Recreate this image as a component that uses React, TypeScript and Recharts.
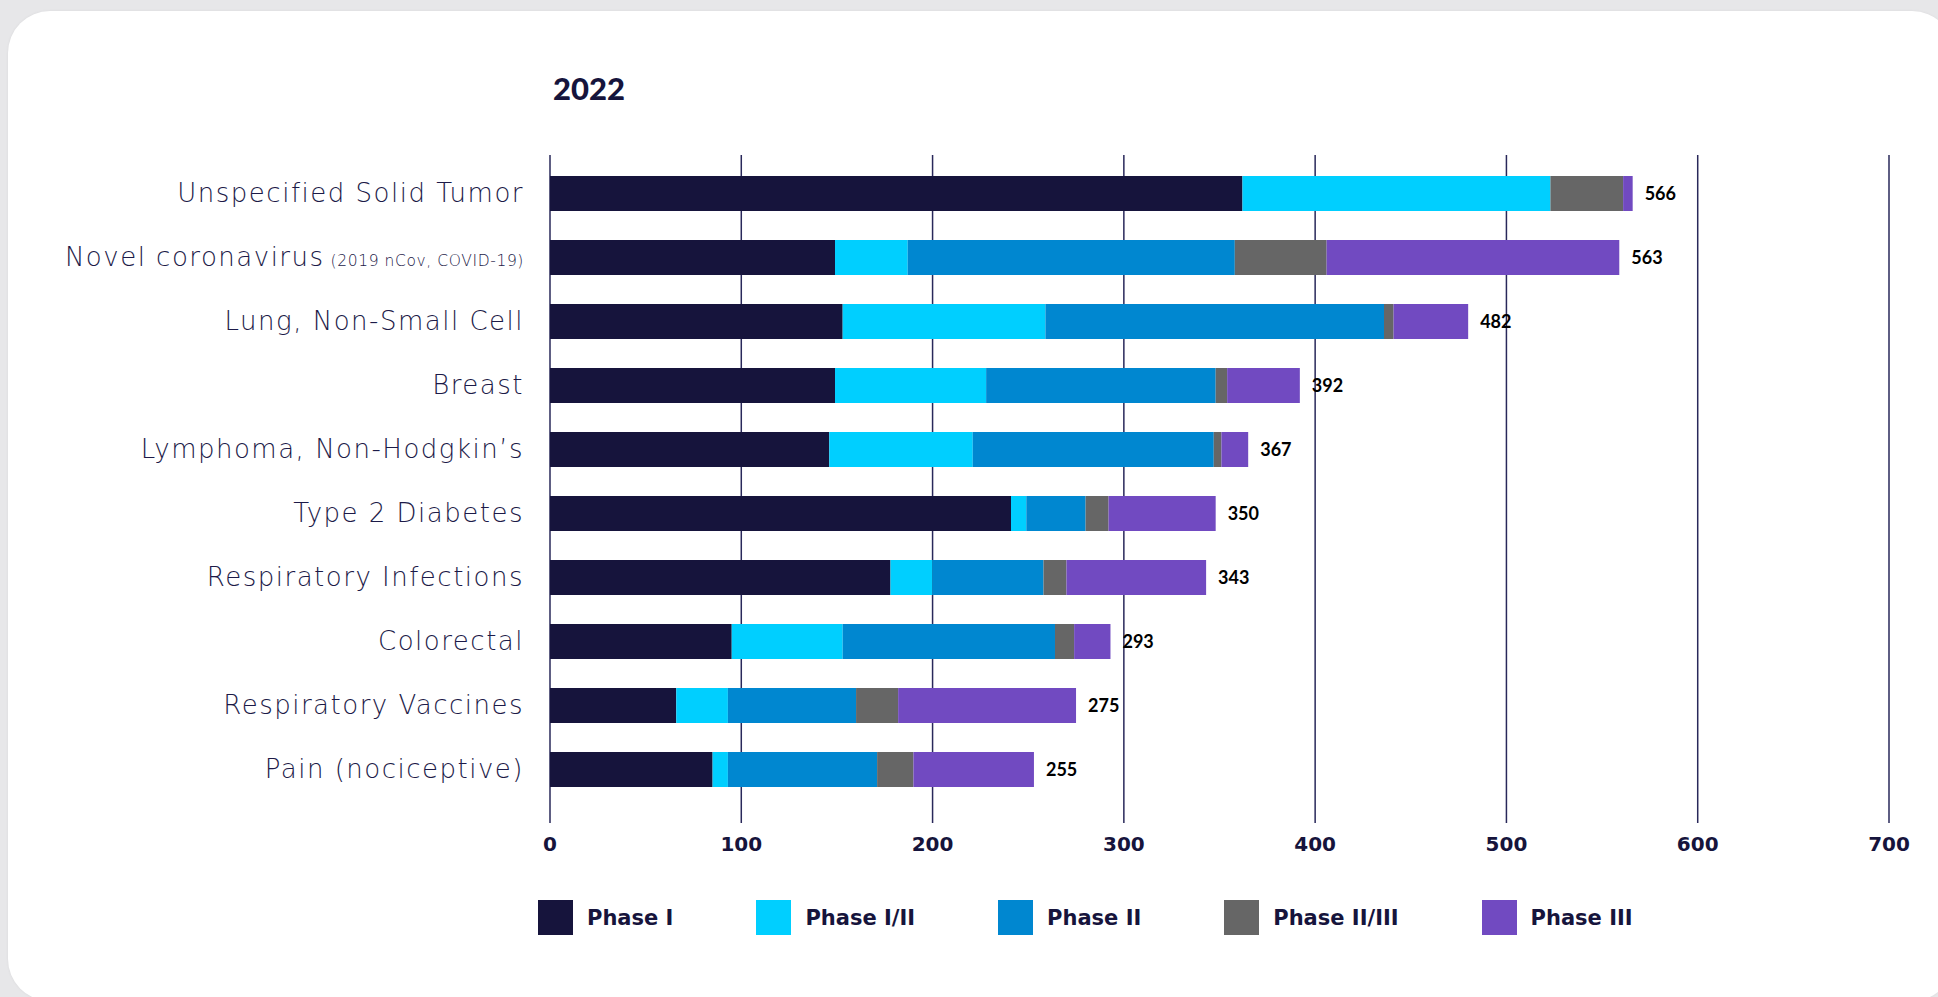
import React from 'react';
import { BarChart, Bar, XAxis, YAxis, CartesianGrid, LabelList } from 'recharts';

const title = '2022';
const categories = [
  'Unspecified Solid Tumor',
  'Novel coronavirus',
  'Lung, Non-Small Cell',
  'Breast',
  'Lymphoma, Non-Hodgkin\u2019s',
  'Type 2 Diabetes',
  'Respiratory Infections',
  'Colorectal',
  'Respiratory Vaccines',
  'Pain (nociceptive)',
];
const categoryNotes = ['', '(2019 nCov, COVID-19)', '', '', '', '', '', '', '', ''];
const phaseI = [362, 149, 153, 149, 146, 241, 178, 95, 66, 85];
const phaseI_II = [161, 38, 106, 79, 75, 8, 22, 58, 27, 8];
const phaseII = [0, 171, 177, 120, 126, 31, 58, 111, 67, 78];
const phaseII_III = [38, 48, 5, 6, 4, 12, 12, 10, 22, 19];
const phaseIII = [5, 153, 39, 38, 14, 56, 73, 19, 93, 63];
const totals = [566, 563, 482, 392, 367, 350, 343, 293, 275, 255];
const xTicks = [0, 100, 200, 300, 400, 500, 600, 700];

const seriesNames = ['Phase I', 'Phase I/II', 'Phase II', 'Phase II/III', 'Phase III'];
const seriesKeys = ['p1', 'p12', 'p2', 'p23', 'p3'];
const seriesColors = ['#16143c', '#00cfff', '#0087d0', '#666666', '#714ac1'];
const seriesValues = [phaseI, phaseI_II, phaseII, phaseII_III, phaseIII];

const data = categories.map((name, i) => {
  const row: Record<string, any> = { name, note: categoryNotes[i], total: totals[i] };
  seriesKeys.forEach((k, s) => {
    row[k] = seriesValues[s][i];
  });
  return row;
});

const NAVY = '#16143c';
const LABEL_FONT = 'Lato, "Open Sans", sans-serif';
const WIDE_FONT = '"DejaVu Sans", sans-serif';
const LIGHT_FONT = '"DejaVu Sans ExtraLight", "DejaVu Sans", sans-serif';

const YTick = (props: any) => {
  const { x, y, payload, index } = props;
  const note = categoryNotes[index] || '';
  return (
    <text
      x={x}
      y={y}
      dy="0.36em"
      textAnchor="end"
      fill="#1c1a48"
      fontFamily={LIGHT_FONT}
      fontWeight={200}
      fontSize={26}
      letterSpacing={1.5}
    >
      <tspan>{payload.value}</tspan>
      {note ? (
        <tspan fontSize={15.5} dx={6} letterSpacing={0.6}>
          {note}
        </tspan>
      ) : null}
    </text>
  );
};

export default function App() {
  return (
    <div
      style={{
        position: 'absolute',
        left: 0,
        top: 0,
        width: 1938,
        height: 997,
        background: '#e7e7e9',
        overflow: 'hidden',
      }}
    >
      <div
        style={{
          position: 'absolute',
          left: 8,
          top: 11,
          width: 1946,
          height: 990,
          background: '#ffffff',
          borderRadius: 42,
          boxShadow: '0 0 3px rgba(0,0,0,0.06)',
        }}
      />
      <div
        style={{
          position: 'absolute',
          left: 553,
          top: 70,
          fontFamily: LABEL_FONT,
          fontWeight: 900,
          fontSize: 31,
          lineHeight: '37px',
          color: NAVY,
        }}
      >
        {title}
      </div>
      <div style={{ position: 'absolute', left: 0, top: 0 }}>
        <BarChart
          width={1938}
          height={997}
          data={data}
          layout="vertical"
          margin={{ top: 155, right: 49, bottom: 134, left: 0 }}
          barCategoryGap={29}
        >
          <CartesianGrid horizontal={false} stroke="#29285a" strokeWidth={1.5} />
          <XAxis
            type="number"
            domain={[0, 700]}
            ticks={xTicks}
            interval={0}
            axisLine={false}
            tickLine={false}
            tickMargin={8}
            height={40}
            tick={{ fill: NAVY, fontSize: 20, fontWeight: 700, fontFamily: WIDE_FONT }}
          />
          <YAxis
            type="category"
            dataKey="name"
            width={550}
            axisLine={false}
            tickLine={false}
            tickMargin={20}
            interval={0}
            padding={{ top: 6, bottom: 22 }}
            tick={<YTick />}
          />
          {seriesKeys.map((k, s) => (
            <Bar
              key={k}
              dataKey={k}
              name={seriesNames[s]}
              stackId="a"
              fill={seriesColors[s]}
              barSize={35}
              isAnimationActive={false}
            >
              {s === seriesKeys.length - 1 ? (
                <LabelList
                  dataKey="total"
                  position="right"
                  offset={12}
                  fill="#000000"
                  fontSize={18}
                  fontWeight={700}
                  fontFamily={LABEL_FONT}
                />
              ) : null}
            </Bar>
          ))}
        </BarChart>
      </div>
      <div
        style={{
          position: 'absolute',
          left: 538,
          top: 900,
          display: 'flex',
          alignItems: 'center',
          gap: 83,
          fontFamily: WIDE_FONT,
          fontWeight: 700,
          fontSize: 21,
          color: NAVY,
        }}
      >
        {seriesNames.map((n, s) => (
          <div key={n} style={{ display: 'flex', alignItems: 'center', gap: 14 }}>
            <div style={{ width: 35, height: 35, background: seriesColors[s] }} />
            <span>{n}</span>
          </div>
        ))}
      </div>
    </div>
  );
}
